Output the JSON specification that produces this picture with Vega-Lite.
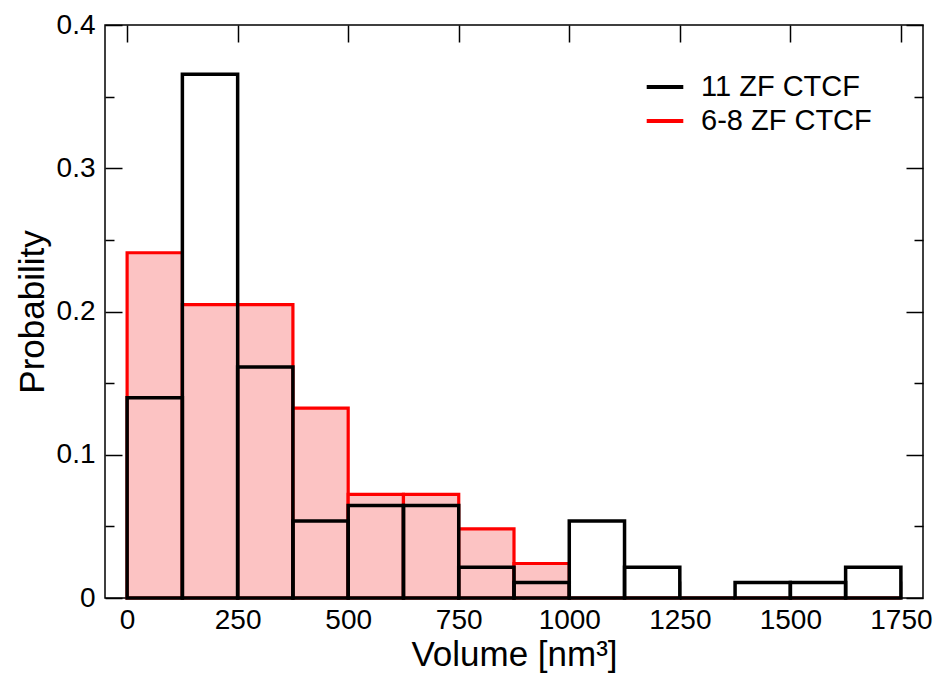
{
  "$schema": "https://vega.github.io/schema/vega-lite/v6.json",
  "autosize": "none",
  "width": 818,
  "height": 573,
  "padding": {"left": 105, "top": 25, "right": 17, "bottom": 85},
  "background": "white",
  "config": {
    "view": {"stroke": "black", "strokeWidth": 1.5},
    "font": "Liberation Sans",
    "axis": {
      "domain": false,
      "grid": false,
      "tickColor": "black",
      "tickWidth": 1.5,
      "labelFont": "Liberation Sans",
      "labelFontSize": 28,
      "labelColor": "black",
      "titleFont": "Liberation Sans",
      "titleFontSize": 35,
      "titleFontWeight": "normal",
      "titleColor": "black"
    },
    "legend": {
      "labelFont": "Liberation Sans",
      "labelFontSize": 29,
      "labelColor": "black",
      "labelLimit": 400
    }
  },
  "data": {
    "values": [
      {"series": "6-8 ZF CTCF", "bin_start": 0, "bin_end": 125, "probability": 0.241},
      {"series": "6-8 ZF CTCF", "bin_start": 125, "bin_end": 250, "probability": 0.2048},
      {"series": "6-8 ZF CTCF", "bin_start": 250, "bin_end": 375, "probability": 0.2048},
      {"series": "6-8 ZF CTCF", "bin_start": 375, "bin_end": 500, "probability": 0.1325},
      {"series": "6-8 ZF CTCF", "bin_start": 500, "bin_end": 625, "probability": 0.0723},
      {"series": "6-8 ZF CTCF", "bin_start": 625, "bin_end": 750, "probability": 0.0723},
      {"series": "6-8 ZF CTCF", "bin_start": 750, "bin_end": 875, "probability": 0.0482},
      {"series": "6-8 ZF CTCF", "bin_start": 875, "bin_end": 1000, "probability": 0.0241},
      {"series": "6-8 ZF CTCF", "bin_start": 1000, "bin_end": 1125, "probability": 0},
      {"series": "6-8 ZF CTCF", "bin_start": 1125, "bin_end": 1250, "probability": 0},
      {"series": "6-8 ZF CTCF", "bin_start": 1250, "bin_end": 1375, "probability": 0},
      {"series": "6-8 ZF CTCF", "bin_start": 1375, "bin_end": 1500, "probability": 0},
      {"series": "6-8 ZF CTCF", "bin_start": 1500, "bin_end": 1625, "probability": 0},
      {"series": "6-8 ZF CTCF", "bin_start": 1625, "bin_end": 1750, "probability": 0},
      {"series": "11 ZF CTCF", "bin_start": 0, "bin_end": 125, "probability": 0.1398},
      {"series": "11 ZF CTCF", "bin_start": 125, "bin_end": 250, "probability": 0.3656},
      {"series": "11 ZF CTCF", "bin_start": 250, "bin_end": 375, "probability": 0.1613},
      {"series": "11 ZF CTCF", "bin_start": 375, "bin_end": 500, "probability": 0.0538},
      {"series": "11 ZF CTCF", "bin_start": 500, "bin_end": 625, "probability": 0.0645},
      {"series": "11 ZF CTCF", "bin_start": 625, "bin_end": 750, "probability": 0.0645},
      {"series": "11 ZF CTCF", "bin_start": 750, "bin_end": 875, "probability": 0.0215},
      {"series": "11 ZF CTCF", "bin_start": 875, "bin_end": 1000, "probability": 0.0108},
      {"series": "11 ZF CTCF", "bin_start": 1000, "bin_end": 1125, "probability": 0.0538},
      {"series": "11 ZF CTCF", "bin_start": 1125, "bin_end": 1250, "probability": 0.0215},
      {"series": "11 ZF CTCF", "bin_start": 1250, "bin_end": 1375, "probability": 0},
      {"series": "11 ZF CTCF", "bin_start": 1375, "bin_end": 1500, "probability": 0.0108},
      {"series": "11 ZF CTCF", "bin_start": 1500, "bin_end": 1625, "probability": 0.0108},
      {"series": "11 ZF CTCF", "bin_start": 1625, "bin_end": 1750, "probability": 0.0215}
    ]
  },
  "layer": [
    {
      "transform": [{"filter": "datum.series === '6-8 ZF CTCF'"}],
      "mark": {"type": "bar", "fill": "#fcc3c3", "strokeWidth": 3.2, "strokeJoin": "miter"},
      "encoding": {
        "x": {
          "field": "bin_start", "type": "quantitative",
          "scale": {"domain": [-50, 1800], "nice": false, "zero": false},
          "axis": {
            "orient": "bottom", "title": "Volume [nm³]",
            "values": [0, 250, 500, 750, 1000, 1250, 1500, 1750],
            "tickSize": -17, "labelPadding": 25, "titlePadding": 3, "format": "d"
          }
        },
        "x2": {"field": "bin_end"},
        "y": {
          "field": "probability", "type": "quantitative",
          "scale": {"domain": [0, 0.4], "nice": false},
          "axis": {
            "orient": "left", "title": "Probability",
            "values": [0, 0.05, 0.1, 0.15, 0.2, 0.25, 0.3, 0.35, 0.4],
            "tickSize": {"condition": {"test": "abs(datum.value * 10 - round(datum.value * 10)) < 0.001", "value": -17}, "value": -9},
            "labelExpr": "abs(datum.value * 10 - round(datum.value * 10)) < 0.001 ? (datum.value == 0 ? '0' : format(datum.value, '.1f')) : ''",
            "labelPadding": 27, "titlePadding": 6
          }
        },
        "y2": {"datum": 0},
        "stroke": {
          "field": "series", "type": "nominal",
          "scale": {"domain": ["11 ZF CTCF", "6-8 ZF CTCF"], "range": ["black", "red"]},
          "legend": {
            "title": null, "orient": "none", "legendX": 543, "legendY": 45,
            "symbolType": "M-1.22,0H1.22", "symbolSize": 900, "symbolStrokeWidth": 4,
            "labelOffset": 19, "rowPadding": 2, "padding": 0
          }
        }
      }
    },
    {
      "transform": [{"filter": "datum.series === '11 ZF CTCF'"}],
      "mark": {"type": "bar", "fill": null, "fillOpacity": 0, "strokeWidth": 3.5, "strokeJoin": "miter"},
      "encoding": {
        "x": {
          "field": "bin_start", "type": "quantitative",
          "axis": {
            "orient": "top", "title": null, "labels": false,
            "values": [0, 250, 500, 750, 1000, 1250, 1500, 1750],
            "tickSize": -17
          }
        },
        "x2": {"field": "bin_end"},
        "y": {
          "field": "probability", "type": "quantitative",
          "axis": {
            "orient": "right", "title": null, "labels": false,
            "values": [0, 0.05, 0.1, 0.15, 0.2, 0.25, 0.3, 0.35, 0.4],
            "tickSize": {"condition": {"test": "abs(datum.value * 10 - round(datum.value * 10)) < 0.001", "value": -17}, "value": -9}
          }
        },
        "y2": {"datum": 0},
        "stroke": {"field": "series", "type": "nominal"}
      }
    }
  ],
  "resolve": {"axis": {"x": "independent", "y": "independent"}}
}
